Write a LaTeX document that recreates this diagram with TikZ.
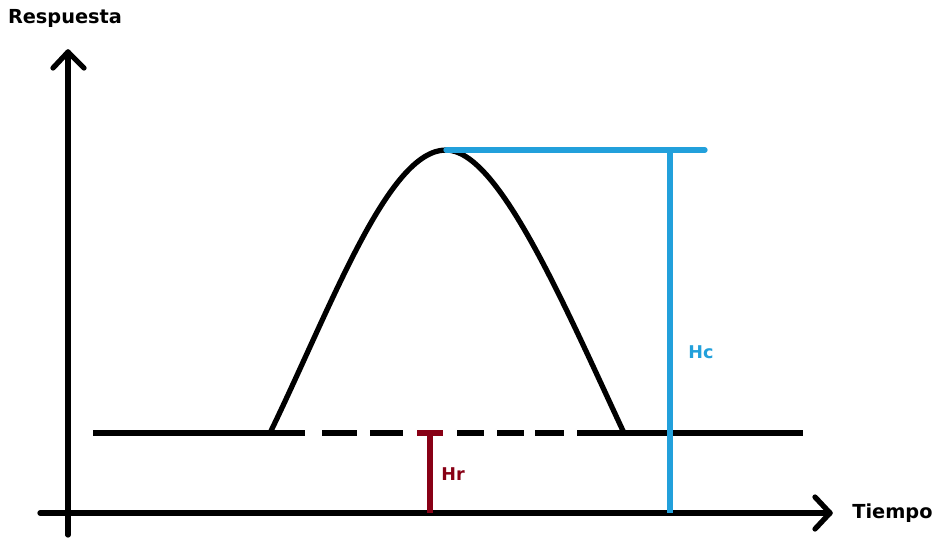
\documentclass[tikz,border=0pt]{standalone}
\usepackage{fontspec}
\setmainfont{DejaVu Sans}
\definecolor{peakBlue}{HTML}{22A0DB}
\definecolor{baseRed}{HTML}{880015}
\definecolor{axisBlack}{HTML}{000000}

\tikzset{
    axisline/.style={axisBlack, line width=5pt*0.6, line cap=round, line join=round},
    signal/.style={axisBlack, line width=5pt*0.6},
    heightline/.style={line width=5pt*0.6},
    axislabel/.style={font=\bfseries\fontsize{11}{13}\selectfont, inner sep=0pt},
    heightlabel/.style={font=\bfseries\fontsize{10}{12}\selectfont, inner sep=0pt}
}

\begin{document}
\begin{tikzpicture}[x=0.02cm, y=-0.02cm]

    % --- 0. Canvas ---
    \useasboundingbox (0,0) rectangle (936,542);

    % --- 1. Axes ---
    \coordinate (origin) at (68,513);
    \coordinate (ytop) at (68,52);
    \coordinate (ybot) at (68,535);
    \coordinate (xleft) at (40,513);
    \coordinate (xright) at (830,513);

    % Vertical axis with open head
    \draw[axisline] (ybot) -- (ytop);
    \draw[axisline] (53,68) -- (ytop) -- (84,68);

    % Horizontal axis with open head
    \draw[axisline] (xleft) -- (xright);
    \draw[axisline] (815,497) -- (xright) -- (815,529);

    % Axis labels
    \node[axislabel] (resp) at (65,18) {Respuesta};
    \node[axislabel, anchor=west] (tiempo) at (852,513) {Tiempo};

    % --- 2. Baseline ---
    \coordinate (bstart) at (93,433);
    \coordinate (lfoot) at (270,433);
    \coordinate (rfoot) at (624,433);
    \coordinate (bend) at (803,433);

    % Solid parts
    \draw[signal] (bstart) -- (305,433);
    \draw[signal] (577,433) -- (bend);

    % Dashed part (interpolated under the peak)
    \foreach \a/\b in {322/357, 370/403, 457/484, 497/524, 535/564}
        \draw[signal] (\a,433) -- (\b,433);

    % --- 3. The peak ---
    \coordinate (top) at (446,150);
    \draw[signal, line join=round]
        (lfoot) .. controls (332,305) and (388,150) .. (top)
        .. controls (498,150) and (562,300) .. (rfoot);

    % --- 4. Peak height Hc ---
    \coordinate (hctop) at (670,150);
    \coordinate (hcend) at (705,150);
    \coordinate (hcbot) at (670,513);
    \draw[heightline, peakBlue, line cap=round] (top) -- (hcend);
    \draw[heightline, peakBlue] (hctop) -- (hcbot);
    \node[heightlabel, text=peakBlue, anchor=west] (hc) at (688,352) {Hc};

    % --- 5. Baseline height Hr ---
    \coordinate (hrtop) at (430,433);
    \coordinate (hrbot) at (430,513);
    \draw[heightline, baseRed] (hrtop) -- (hrbot);
    \draw[heightline, baseRed] (417,433) -- (443,433);
    \node[heightlabel, text=baseRed, anchor=west] (hr) at (441,474) {Hr};

\end{tikzpicture}
\end{document}
